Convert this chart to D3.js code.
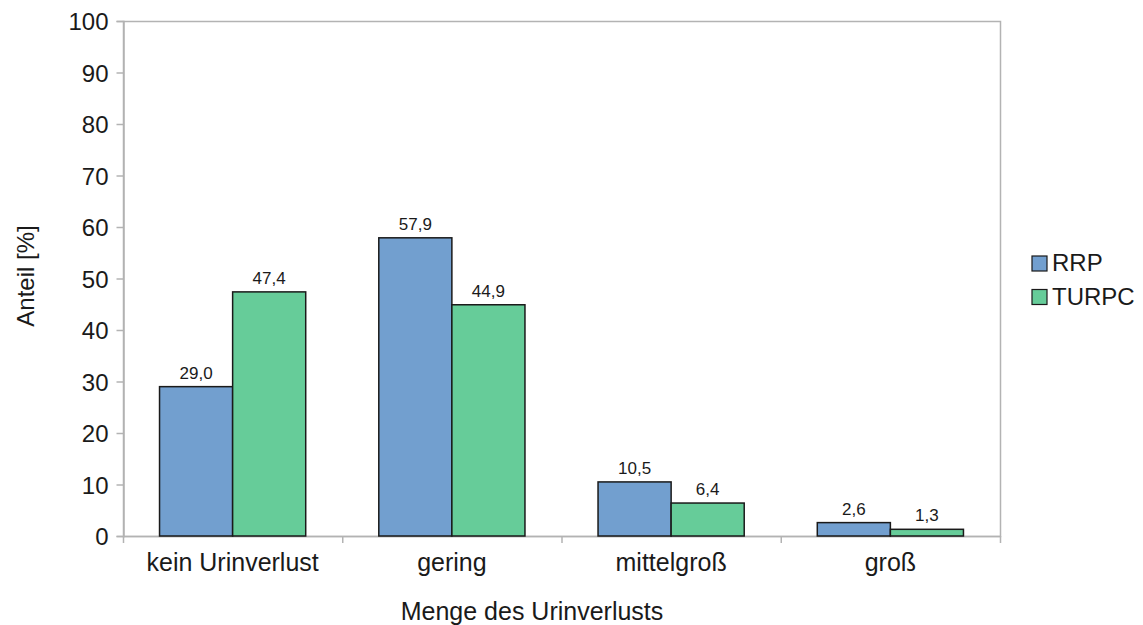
<!DOCTYPE html>
<html>
<head>
<meta charset="utf-8">
<script src="https://cdn.jsdelivr.net/npm/d3@7"></script>
<style>
  html, body { margin: 0; padding: 0; background: #fff; }
  text { font-family: "Liberation Sans", Arial, sans-serif; fill: #1a1a1a; }
</style>
</head>
<body>
<svg id="chart" width="1143" height="625"></svg>
<script>
// Menge des Urinverlusts: Anteil [%] je Gruppe
const categories = ["kein Urinverlust", "gering", "mittelgroß", "groß"];
const seriesNames = ["RRP", "TURPC"];
const rrpValues = [29.0, 57.9, 10.5, 2.6];
const turpcValues = [47.4, 44.9, 6.4, 1.3];
const yTicks = [0, 10, 20, 30, 40, 50, 60, 70, 80, 90, 100];
const colors = ["#729fcf", "#66cc99"];

const seriesValues = [rrpValues, turpcValues];
const svg = d3.select("#chart");

const plot = { left: 123, right: 1000, top: 21, bottom: 536 };
const frameColor = "#b3b3b3";

const x = d3.scaleBand().domain(categories).range([plot.left, plot.right]).padding(0);
const xs = d3.scaleBand().domain(seriesNames).range([0, x.bandwidth()])
  .paddingInner(0).paddingOuter(0.5);
const y = d3.scaleLinear().domain([0, 100]).range([plot.bottom, plot.top]);

// plot frame
svg.append("rect")
  .attr("x", plot.left + 0.5).attr("y", plot.top + 0.5)
  .attr("width", plot.right - plot.left).attr("height", plot.bottom - plot.top)
  .attr("fill", "none").attr("stroke", frameColor).attr("stroke-width", 1.5);

// y axis
const yAxis = d3.axisLeft(y).tickValues(yTicks).tickSize(7).tickPadding(8)
  .tickFormat(d3.format("d"));
const gy = svg.append("g").attr("transform", `translate(${plot.left + 0.5},0)`).call(yAxis);
gy.select(".domain").attr("stroke", frameColor).attr("stroke-width", 1.5);
gy.selectAll(".tick line").attr("stroke", frameColor).attr("stroke-width", 1.5);
gy.selectAll(".tick text").attr("font-size", 24).attr("font-family", "Liberation Sans, Arial, sans-serif")
  .attr("fill", "#1a1a1a").attr("dy", "0.36em");

// x axis: ticks on category boundaries
const boundaries = categories.map(c => x(c)).concat([plot.right]);
const gx = svg.append("g");
gx.append("line").attr("x1", plot.left).attr("x2", plot.right)
  .attr("y1", plot.bottom + 0.5).attr("y2", plot.bottom + 0.5)
  .attr("stroke", frameColor).attr("stroke-width", 1.5);
gx.selectAll("line.tick").data(boundaries).join("line").attr("class", "tick")
  .attr("x1", d => d + 0.5).attr("x2", d => d + 0.5)
  .attr("y1", plot.bottom).attr("y2", plot.bottom + 7)
  .attr("stroke", frameColor).attr("stroke-width", 1.5);
gx.selectAll("text").data(categories).join("text")
  .attr("x", d => x(d) + x.bandwidth() / 2).attr("y", 571)
  .attr("text-anchor", "middle").attr("font-size", 25).text(d => d);

// bars
const groups = svg.append("g").selectAll("g").data(categories).join("g")
  .attr("transform", d => `translate(${x(d)},0)`);
groups.selectAll("rect")
  .data((c, i) => seriesNames.map((s, j) => ({ s, j, v: seriesValues[j][i] })))
  .join("rect")
  .attr("x", d => xs(d.s)).attr("width", xs.bandwidth())
  .attr("y", d => y(d.v)).attr("height", d => y(0) - y(d.v))
  .attr("fill", d => colors[d.j]).attr("stroke", "#1a1a1a").attr("stroke-width", 1.5);

// value labels
const fmt = v => d3.format(".1f")(v).replace(".", ",");
groups.selectAll("text.val")
  .data((c, i) => seriesNames.map((s, j) => ({ s, j, v: seriesValues[j][i] })))
  .join("text").attr("class", "val")
  .attr("x", d => xs(d.s) + xs.bandwidth() / 2).attr("y", d => y(d.v) - 8)
  .attr("text-anchor", "middle").attr("font-size", 17).text(d => fmt(d.v));

// axis titles
svg.append("text").attr("x", 532).attr("y", 620)
  .attr("text-anchor", "middle").attr("font-size", 25).text("Menge des Urinverlusts");
svg.append("text").attr("transform", `translate(34,276) rotate(-90)`)
  .attr("text-anchor", "middle").attr("font-size", 24).text("Anteil [%]");

// legend
const legend = svg.append("g").selectAll("g").data(seriesNames).join("g")
  .attr("transform", (d, i) => `translate(1032,${256 + i * 33.5})`);
legend.append("rect").attr("width", 15).attr("height", 15)
  .attr("fill", (d, i) => colors[i]).attr("stroke", "#1a1a1a").attr("stroke-width", 1.2);
legend.append("text").attr("x", 20).attr("y", 15).attr("font-size", 24).text(d => d);
</script>
</body>
</html>
